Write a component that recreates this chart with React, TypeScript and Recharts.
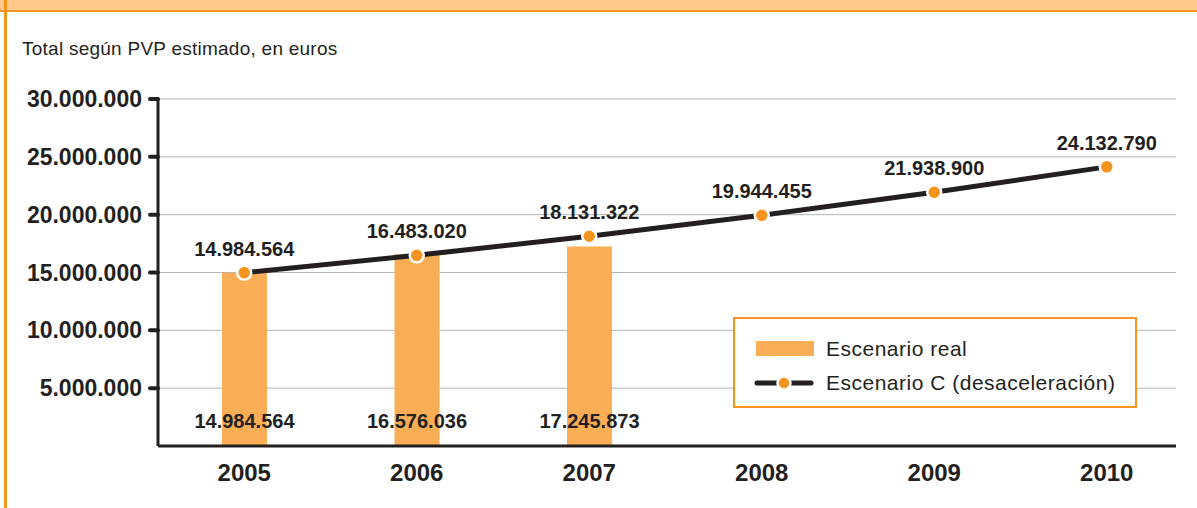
import React from 'react';
import { ComposedChart, Bar, Line, XAxis, YAxis, CartesianGrid, LabelList, Legend } from 'recharts';

const years = ['2005', '2006', '2007', '2008', '2009', '2010'];
const realValues: (number | null)[] = [14984564, 16576036, 17245873, null, null, null];
const scenarioC: number[] = [14984564, 16483020, 18131322, 19944455, 21938900, 24132790];
const yTicks = [5000000, 10000000, 15000000, 20000000, 25000000, 30000000];

const subtitle = 'Total según PVP estimado, en euros';
const realName = 'Escenario real';
const cName = 'Escenario C (desaceleración)';

const data = years.map((y, i) => ({ year: y, real: realValues[i], c: scenarioC[i] }));

const FONT = '"Liberation Sans", Arial, sans-serif';
const INK = '#231F20';
const ORANGE = '#F7941D';
const BAR = '#F9AE55';

const fmt = (n: number) => String(n).replace(/\B(?=(\d{3})+(?!\d))/g, '.');

const YTick = (props: any) => {
  const { x, y, payload } = props;
  return (
    <text x={x} y={y} dy={8} textAnchor="end" fontSize={23} fontWeight={700} fill={INK} fontFamily={FONT}>
      {fmt(payload.value)}
    </text>
  );
};

const XTick = (props: any) => {
  const { x, y, payload } = props;
  return (
    <text x={x} y={y} dy={35} textAnchor="middle" fontSize={24} fontWeight={700} fill={INK} fontFamily={FONT}>
      {payload.value}
    </text>
  );
};

const LineLabel = (props: any) => {
  const { x, y, value } = props;
  if (value == null) return null;
  return (
    <text x={x} y={y - 17} textAnchor="middle" fontSize={20} fontWeight={700} fill={INK} fontFamily={FONT}>
      {fmt(value)}
    </text>
  );
};

const BarLabel = (props: any) => {
  const { x, y, width, height, value } = props;
  if (value == null) return null;
  return (
    <text x={x + width / 2} y={y + height - 18} textAnchor="middle" fontSize={20} fontWeight={700} fill={INK} fontFamily={FONT}>
      {fmt(value)}
    </text>
  );
};

const LegendContent = (props: any) => {
  const payload = [...(props.payload || [])].sort(
    (a: any, b: any) => (a.type === 'rect' ? 0 : 1) - (b.type === 'rect' ? 0 : 1)
  );
  return (
    <div
      style={{
        boxSizing: 'border-box',
        width: 404,
        height: 91,
        border: `2px solid ${ORANGE}`,
        background: '#fff',
        position: 'relative',
        fontFamily: FONT,
      }}
    >
      {payload.map((entry: any, i: number) => {
        const cy = i === 0 ? 30 : 64;
        return (
          <div key={i} style={{ position: 'absolute', left: 19, top: cy - 12, height: 24, display: 'flex', alignItems: 'center' }}>
            <svg width={60} height={16} style={{ display: 'block' }}>
              {entry.type === 'line' ? (
                <g>
                  <line x1={3} y1={8} x2={57} y2={8} stroke={INK} strokeWidth={5} strokeLinecap="round" />
                  <circle cx={30} cy={8} r={6.5} fill={ORANGE} stroke="#fff" strokeWidth={2.5} />
                </g>
              ) : (
                <rect x={2} y={0} width={58} height={15} fill={BAR} />
              )}
            </svg>
            <span style={{ marginLeft: 12, fontSize: 21, letterSpacing: 0.5, color: INK, whiteSpace: 'nowrap', lineHeight: '24px' }}>
              {entry.value}
            </span>
          </div>
        );
      })}
    </div>
  );
};

export default function App() {
  return (
    <div style={{ position: 'absolute', left: 0, top: 0, width: 1197, height: 508, background: '#fff', overflow: 'hidden' }}>
      <div style={{ position: 'absolute', left: 0, top: 0, width: 1197, height: 10, background: '#FFCA8C' }} />
      <div style={{ position: 'absolute', left: 0, top: 10, width: 1197, height: 2, background: ORANGE }} />
      <div style={{ position: 'absolute', left: 4, top: 0, width: 3, height: 508, background: ORANGE }} />
      <div
        style={{
          position: 'absolute',
          left: 22,
          top: 39,
          fontFamily: FONT,
          fontSize: 19,
          letterSpacing: 0.25,
          lineHeight: '19px',
          color: INK,
          whiteSpace: 'nowrap',
        }}
      >
        {subtitle}
      </div>
      <div style={{ position: 'absolute', left: 0, top: 0 }}>
        <ComposedChart width={1197} height={508} data={data} margin={{ top: 99, right: 21, bottom: 22, left: 8 }}>
          <CartesianGrid vertical={false} stroke="#B5B5B5" strokeWidth={1} />
          <XAxis
            dataKey="year"
            axisLine={{ stroke: INK, strokeWidth: 3 }}
            tickLine={false}
            tickSize={0}
            tickMargin={0}
            tick={<XTick />}
            height={40}
            padding={{ left: 0, right: -17 }}
            interval={0}
          />
          <YAxis
            domain={[0, 30000000]}
            ticks={yTicks}
            width={150}
            axisLine={{ stroke: INK, strokeWidth: 3 }}
            tickLine={{ stroke: INK, strokeWidth: 4, strokeLinecap: 'round' }}
            tickSize={8}
            tickMargin={8}
            tick={<YTick />}
            interval={0}
          />
          <Legend
            layout="horizontal"
            verticalAlign="middle"
            align="center"
            content={<LegendContent />}
            wrapperStyle={{ left: 733, top: 317, width: 404, height: 91 }}
          />
          <Bar dataKey="real" name={realName} fill={BAR} barSize={45} legendType="rect" isAnimationActive={false}>
            <LabelList dataKey="real" content={<BarLabel />} />
          </Bar>
          <Line
            type="linear"
            dataKey="c"
            name={cName}
            stroke={INK}
            strokeWidth={5}
            dot={{ r: 7, fill: ORANGE, stroke: '#fff', strokeWidth: 2.5 }}
            activeDot={false}
            legendType="line"
            isAnimationActive={false}
          >
            <LabelList dataKey="c" content={<LineLabel />} />
          </Line>
        </ComposedChart>
      </div>
    </div>
  );
}
